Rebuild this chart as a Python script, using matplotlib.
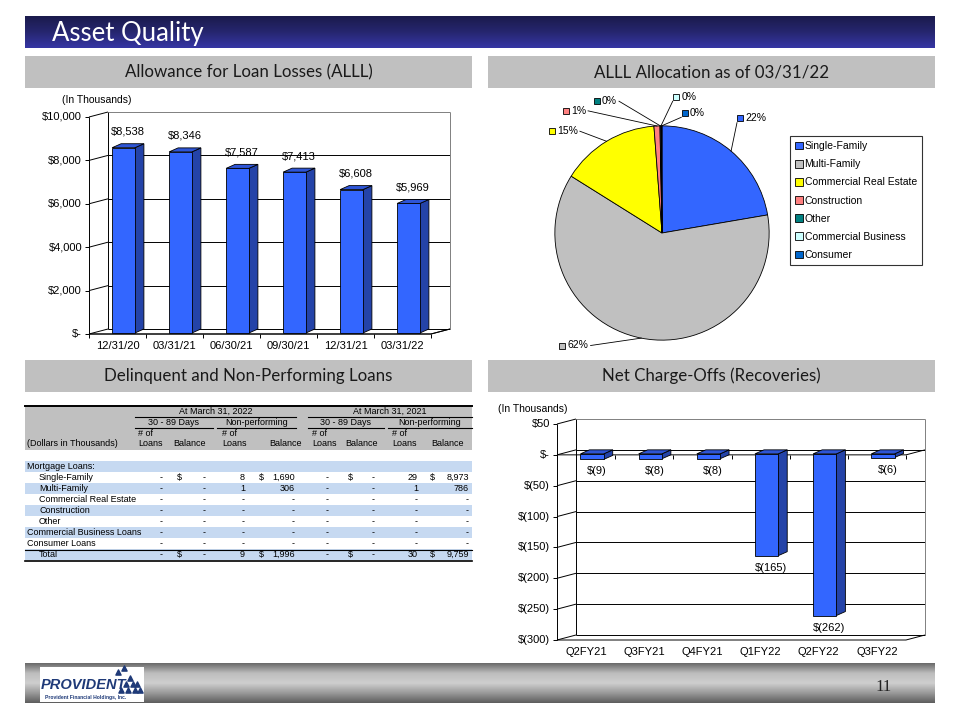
import numpy as np
import matplotlib
matplotlib.use('Agg')
import matplotlib.pyplot as plt
from matplotlib.patches import Polygon, Rectangle
from matplotlib.colors import LinearSegmentedColormap

plt.rcParams['font.family'] = ['Liberation Sans', 'DejaVu Sans']

# ALLL history (bar chart, top left)
alll_dates = ['12/31/20', '03/31/21', '06/30/21', '09/30/21', '12/31/21', '03/31/22']
alll_values = [8538, 8346, 7587, 7413, 6608, 5969]
alll_ticks = [0, 2000, 4000, 6000, 8000, 10000]
alll_ticklabels = ['$-', '$2,000', '$4,000', '$6,000', '$8,000', '$10,000']

# ALLL allocation (pie, top right)
pie_labels = ['Single-Family', 'Multi-Family', 'Commercial Real Estate', 'Construction',
              'Other', 'Commercial Business', 'Consumer']
pie_values = [22.3, 61.6, 14.9, 0.9, 0.1, 0.1, 0.1]
pie_pct = ['22%', '62%', '15%', '1%', '0%', '0%', '0%']
pie_colors = ['#3366FF', '#C0C0C0', '#FFFF00', '#FF8080', '#008080', '#CCFFFF', '#0066CC']

# net charge-offs (bar chart, bottom right)
nco_quarters = ['Q2FY21', 'Q3FY21', 'Q4FY21', 'Q1FY22', 'Q2FY22', 'Q3FY22']
nco_values = [-9, -8, -8, -165, -262, -6]
nco_ticks = [-300, -250, -200, -150, -100, -50, 0, 50]
nco_ticklabels = ['$(300)', '$(250)', '$(200)', '$(150)', '$(100)', '$(50)', '$-', '$50']

# delinquent / non-performing table (bottom left)
tbl_groups = ['At March 31, 2022', 'At March 31, 2021']
tbl_subgroups = ['30 - 89 Days', 'Non-performing', '30 - 89 Days', 'Non-performing']
tbl_rows = ['Mortgage Loans:', 'Single-Family', 'Multi-Family', 'Commercial Real Estate',
            'Construction', 'Other', 'Commercial Business Loans', 'Consumer Loans', 'Total']
tbl_indent = [False, True, True, True, True, True, False, False, True]
tbl_values = [
    None,
    ['-', '-', '8', '1,690', '-', '-', '29', '8,973'],
    ['-', '-', '1', '306', '-', '-', '1', '786'],
    ['-'] * 8,
    ['-'] * 8,
    ['-'] * 8,
    ['-'] * 8,
    ['-'] * 8,
    ['-', '-', '9', '1,996', '-', '-', '30', '9,759'],
]
tbl_dollar_rows = ['Single-Family', 'Total']

BAR_FRONT = '#3366FF'
BAR_SIDE = '#2443A8'
BAR_TOP = '#2E55D6'

W, H = 960, 720
fig = plt.figure(figsize=(W / 100, H / 100), dpi=100)

bg = fig.add_axes([0, 0, 1, 1])
bg.axis('off')


def px_axes(x0, y0, x1, y1):
    return fig.add_axes([x0 / W, 1 - y1 / H, (x1 - x0) / W, (y1 - y0) / H])


def px_scale(ax):
    # data units per pixel
    x0, x1 = ax.get_xlim()
    y0, y1 = ax.get_ylim()
    pos = ax.get_position()
    return (x1 - x0) / (pos.width * W), (y1 - y0) / (pos.height * H)


def vgrad(x0, x1, y0, y1, colors):
    cmap = LinearSegmentedColormap.from_list('g', colors)
    grad = np.linspace(0, 1, 100).reshape(-1, 1)
    bg.imshow(grad, cmap=cmap, extent=(x0, x1, y1, y0), aspect='auto',
              origin='upper', zorder=0)


# slide decoration
vgrad(25, 935, 16, 48, ['#1b1b4c', '#26266f', '#3636a4'])
bg.text(52, 33, 'Asset Quality', color='white', fontsize=18.5, family='Lato', va='center')

for x0, y0, txt in [(25, 56, 'Allowance for Loan Losses (ALLL)'),
                    (488, 56, 'ALLL Allocation as of 03/31/22'),
                    (25, 360, 'Delinquent and Non-Performing Loans'),
                    (488, 360, 'Net Charge-Offs (Recoveries)')]:
    bg.add_patch(Rectangle((x0, y0), 447, 32, fc='#C0C0C0', ec='none'))
    bg.text(x0 + 223.5, y0 + 16, txt, ha='center', va='center', fontsize=12.2,
            family='Lato', color='#1a1a1a')

vgrad(25, 935, 663, 703, ['#6a6a6a', '#bdbdbd', '#cfcfcf', '#9a9a9a', '#5e5e5e'])
bg.add_patch(Rectangle((40, 667), 104, 35, fc='white', ec='none'))
bg.text(41, 685, 'PROVIDENT', fontsize=10.5, fontweight='bold', fontstyle='italic',
        color='#1f3a78', va='center')
bg.text(86, 698, 'Provident Financial Holdings, Inc.', fontsize=3.6, fontweight='bold',
        color='#1f3a78', ha='center', va='center')
bg.scatter([121, 128, 135, 126, 133, 140, 130, 137, 118, 124],
           [690, 690, 690, 684, 684, 690, 678, 684, 672, 668],
           marker='^', s=14, color='#1f3a78', zorder=3)
bg.text(884, 687, '11', family='Liberation Serif', fontsize=12, ha='center', va='center',
        color='#222222')

# table
FS = 6.5
bg.add_patch(Rectangle((25, 406), 447, 44, fc='#C0C0C0', ec='none'))
row_y0 = 461
row_h = 11
col_right = [163, 206, 245, 295, 329, 375, 418, 469]
for r, name in enumerate(tbl_rows):
    y = row_y0 + r * row_h
    if r % 2 == 0:
        bg.add_patch(Rectangle((25, y), 447, row_h, fc='#C6D9F1', ec='none'))
    bg.text(39 if tbl_indent[r] else 27, y + row_h / 2, name, fontsize=FS, va='center')
    vals = tbl_values[r]
    if vals is None:
        continue
    for c, v in enumerate(vals):
        bg.text(col_right[c], y + row_h / 2, v, fontsize=FS, ha='right', va='center')
    if name in tbl_dollar_rows:
        for dx in [177, 259, 348, 430]:
            bg.text(dx, y + row_h / 2, '$', fontsize=FS, va='center')

bg.plot([25, 472], [406, 406], color='black', lw=1.4)
for g, (xa, xb) in zip(tbl_groups, [(135, 296), (308, 472)]):
    bg.text((xa + xb) / 2, 411.5, g, fontsize=FS, ha='center', va='center')
    bg.plot([xa, xb], [417, 417], color='black', lw=0.8)
for s, (xa, xb) in zip(tbl_subgroups, [(135, 213), (217, 296), (308, 384), (388, 472)]):
    bg.text((xa + xb) / 2, 422.5, s, fontsize=FS, ha='center', va='center')
    bg.plot([xa, xb], [428, 428], color='black', lw=0.8)
for xl in [138, 222, 312, 392]:
    bg.text(xl, 434, '# of', fontsize=FS, va='center')
    bg.text(xl, 444, 'Loans', fontsize=FS, va='center')
for xc in [190, 285, 362, 448]:
    bg.text(xc, 444, 'Balance', fontsize=FS, ha='center', va='center')
bg.text(27, 444, '(Dollars in Thousands)', fontsize=FS, va='center')
bg.plot([25, 472], [550, 550], color='black', lw=0.8)
bg.plot([25, 472], [561, 561], color='black', lw=1.2)

bg.set_xlim(0, W)
bg.set_ylim(H, 0)


def frame3d(ax, ticks, ticklabels, cats, base, front=(-19, -5)):
    sx, sy = px_scale(ax)
    fx, fy = front[0] * sx, front[1] * sy
    xl, xr = ax.get_xlim()
    yb, yt = ax.get_ylim()
    kw = dict(clip_on=False, zorder=1, lw=0.7, solid_capstyle='butt')
    for t, lab in zip(ticks, ticklabels):
        col = '#808080' if t == yt else 'black'
        ax.plot([xl, xr], [t, t], color=col, **kw)
        ax.plot([xl + fx, xl], [t + fy, t], color='black', **kw)
        ax.plot([xl + fx - 4 * sx, xl + fx], [t + fy, t + fy], color='black', **kw)
        ax.text(xl + fx - 7 * sx, t + fy, lab, ha='right', va='center', fontsize=8)
    ax.plot([xr, xr], [yb, yt], color='#808080', **kw)
    ax.plot([xl, xl], [yb, yt], color='black', **kw)
    ax.plot([xl + fx, xl + fx], [yb + fy, yt + fy], color='black', **kw)
    # floor and category axis
    ax.plot([xl + fx, xr + fx, xr], [yb + fy, yb + fy, yb], color='black', **kw)
    ax.plot([xl + fx, xr + fx, xr], [base + fy, base + fy, base], color='black', **kw)
    for i in range(len(cats) + 1):
        xt = xl + i + fx
        ax.plot([xt, xt], [base + fy, base + fy - 4 * sy], color='black', **kw)
    for i, c in enumerate(cats):
        ax.text(i + fx, yb + fy - 7 * sy, c, ha='center', va='top', fontsize=8)


def bars3d(ax, values, width=0.4, off=(-13, -4), depth=(9, 4)):
    sx, sy = px_scale(ax)
    ox, oy = off[0] * sx, off[1] * sy
    dx, dy = depth[0] * sx, depth[1] * sy
    for i, v in enumerate(values):
        lo, hi = min(v, 0) + oy, max(v, 0) + oy
        l, r = i - width / 2 + ox, i + width / 2 + ox
        faces = [([(r, lo), (r + dx, lo + dy), (r + dx, hi + dy), (r, hi)], BAR_SIDE),
                 ([(l, hi), (r, hi), (r + dx, hi + dy), (l + dx, hi + dy)], BAR_TOP),
                 ([(l, lo), (r, lo), (r, hi), (l, hi)], BAR_FRONT)]
        for pts, c in faces:
            ax.add_patch(Polygon(pts, closed=True, fc=c, ec='black', lw=0.6,
                                 clip_on=False, zorder=3))
    return sx, sy, ox, oy, dx, dy


# ALLL bar chart
ax1 = px_axes(108, 112, 450, 329)
ax1.set_xlim(-0.5, len(alll_values) - 0.5)
ax1.set_ylim(0, 10000)
ax1.set_autoscale_on(False)
ax1.axis('off')
frame3d(ax1, alll_ticks, alll_ticklabels, alll_dates, base=0)
sx, sy, ox, oy, dx, dy = bars3d(ax1, alll_values)
for i, v in enumerate(alll_values):
    ax1.text(i + ox + dx / 2, v + oy + dy + 7 * sy, f'${v:,}', ha='center', va='bottom',
             fontsize=8)
bg.text(62, 100, '(In Thousands)', fontsize=7.5, va='center')

# net charge-offs bar chart
ax2 = px_axes(576, 419, 925, 635)
ax2.set_xlim(-0.5, len(nco_values) - 0.5)
ax2.set_ylim(-300, 50)
ax2.set_autoscale_on(False)
ax2.axis('off')
frame3d(ax2, nco_ticks, nco_ticklabels, nco_quarters, base=0)
sx, sy, ox, oy, dx, dy = bars3d(ax2, nco_values)
for i, v in enumerate(nco_values):
    ax2.text(i + ox + dx / 2, min(v, 0) + oy - 7 * sy, f'$({-v})', ha='center', va='top',
             fontsize=8)
bg.text(498, 409, '(In Thousands)', fontsize=7.5, va='center')

# ALLL allocation pie
axp = px_axes(512, 83, 812, 383)
wedges, _ = axp.pie(pie_values, colors=pie_colors, startangle=90, counterclock=False,
                    radius=1, wedgeprops=dict(edgecolor='black', linewidth=0.6))
axp.set_xlim(-1.4, 1.4)
axp.set_ylim(-1.4, 1.4)
axp.set_aspect('equal')
axp.axis('off')

pie_label_xy = [(0.73, 1.07), (-0.93, -1.05), (-1.03, 0.95), (-0.90, 1.14),
                (-0.61, 1.23), (0.13, 1.27), (0.21, 1.12)]
total = sum(pie_values)
cum = np.cumsum([0] + pie_values[:-1])
texts = []
for k, (lx, ly) in enumerate(pie_label_xy):
    axp.plot(lx, ly, marker='s', ms=4.3, mfc=pie_colors[k], mec='black', mew=0.6,
             clip_on=False)
    texts.append(axp.text(lx + 0.05, ly, pie_pct[k], fontsize=7.5, va='center',
                          clip_on=False))

fig.canvas.draw()
renderer = fig.canvas.get_renderer()
inv = axp.transData.inverted()
for k, (lx, ly) in enumerate(pie_label_xy):
    ang = np.deg2rad(90 - 360 * (cum[k] + pie_values[k] / 2) / total)
    ex, ey = np.cos(ang), np.sin(ang)
    if lx < 0:
        bb = texts[k].get_window_extent(renderer)
        sx0, sy0 = inv.transform((bb.x1 + 2, (bb.y0 + bb.y1) / 2))
    else:
        sx0, sy0 = lx - 0.03, ly - 0.04
    axp.plot([sx0, ex], [sy0, ey], color='black', lw=0.6, clip_on=False)

leg = fig.legend(wedges, pie_labels, loc='upper left', bbox_to_anchor=(790 / W, 1 - 136 / H),
                 frameon=True, fancybox=False, edgecolor='black', fontsize=7.5,
                 handlelength=0.75, handleheight=0.75, handletextpad=0.15,
                 labelspacing=0.78, borderpad=0.5, borderaxespad=0)
leg.get_frame().set_linewidth(0.8)

fig.savefig('out.png', dpi=100, facecolor='white')
